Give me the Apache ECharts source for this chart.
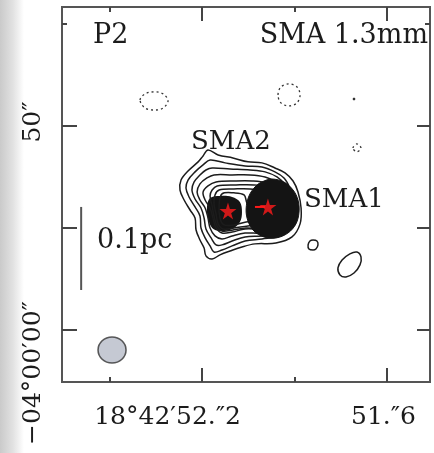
<!DOCTYPE html>
<html>
<head>
<meta charset="utf-8">
<script src="https://cdn.jsdelivr.net/npm/echarts@6/dist/echarts.min.js"></script>
<style>html,body{margin:0;padding:0;background:#fff}#c{width:434px;height:453px}</style>
</head>
<body>
<div id="c"></div>
<script>
// Coordinates: x = RA offset (arcsec, positive = west) from 18h42m52.2s ; y = Dec offset (arcsec) from -04d00m00s
const XMIN = -6.8, XMAX = 11.07, YMIN = -2.55, YMAX = 15.83;

const raMajorTicks = [0, 8.98];      // 52.2s, 51.6s
const raMinorTicks = [-4.49, 4.49];  // 52.5s, 51.9s
const decMajorTicks = [0, 5, 10];
const decMinorTicks = [15];
const raTickLabels = ['18°42′52.″2', '51.″6'];
const decTickLabels = ['−04°00′00″', '50″'];

// positive contours (outer -> inner)
const contour1 = [[0.29,8.82],[0.78,8.58],[1.50,8.43],[2.23,8.24],[2.91,8.19],[3.54,7.94],[4.03,7.70],[4.42,7.30],[4.66,6.76],[4.81,5.98],[4.76,5.20],[4.37,4.56],[3.59,4.26],[2.57,4.22],[1.94,4.07],[1.36,3.87],[0.87,3.68],[0.49,3.48],[0.19,3.63],[0.10,4.02],[-0.10,4.41],[-0.29,4.90],[-0.34,5.49],[-0.58,5.88],[-0.87,6.37],[-1.07,6.86],[-1.02,7.35],[-0.68,7.79],[-0.19,8.24],[0.05,8.53]];
const contour2 = [[0.39,8.33],[1.12,8.19],[2.09,8.04],[2.91,7.99],[3.54,7.75],[3.98,7.45],[4.27,6.96],[4.47,6.37],[4.47,5.64],[4.27,5.00],[3.79,4.61],[2.91,4.46],[2.09,4.36],[1.46,4.12],[0.97,3.92],[0.58,3.82],[0.39,4.12],[0.15,4.51],[-0.05,5.00],[-0.10,5.59],[-0.34,6.03],[-0.63,6.52],[-0.78,6.96],[-0.68,7.35],[-0.34,7.75],[0.05,8.09]];
const contour3 = [[0.49,7.94],[1.36,7.89],[2.33,7.84],[3.06,7.75],[3.64,7.50],[4.03,7.11],[4.27,6.52],[4.32,5.78],[4.13,5.15],[3.69,4.75],[2.91,4.61],[2.09,4.56],[1.46,4.36],[0.97,4.17],[0.68,4.17],[0.44,4.51],[0.19,4.95],[0.10,5.49],[-0.05,5.98],[-0.34,6.42],[-0.49,6.86],[-0.39,7.25],[-0.10,7.60],[0.19,7.84]];
const contour4 = [[0.58,7.60],[1.46,7.60],[2.33,7.60],[3.06,7.50],[3.59,7.25],[3.93,6.86],[4.13,6.27],[4.13,5.64],[3.93,5.15],[3.54,4.85],[2.82,4.75],[2.09,4.75],[1.46,4.61],[0.97,4.46],[0.63,4.61],[0.39,5.00],[0.29,5.49],[0.15,5.98],[-0.10,6.37],[-0.24,6.76],[-0.10,7.16],[0.24,7.45]];
const contour5 = [[0.68,7.25],[1.60,7.30],[2.43,7.30],[3.11,7.21],[3.54,6.96],[3.79,6.57],[3.93,6.03],[3.88,5.49],[3.64,5.10],[2.91,4.95],[2.09,4.95],[1.46,4.80],[0.97,4.75],[0.68,5.00],[0.53,5.49],[0.39,5.98],[0.15,6.37],[0.05,6.76],[0.29,7.06]];
const contour6 = [[0.73,7.06],[1.65,7.11],[2.52,7.11],[3.20,6.96],[3.40,6.13],[3.30,5.29],[2.91,5.00],[2.14,5.00],[1.50,4.90],[0.97,4.85],[0.73,5.10],[0.58,5.59],[0.49,6.08],[0.39,6.57],[0.49,6.86]];
const contour7 = [[0.83,6.86],[1.55,6.91],[2.33,6.91],[2.91,6.76],[3.01,5.88],[2.91,5.15],[2.23,5.10],[1.55,5.00],[1.02,4.95],[0.78,5.20],[0.68,5.69],[0.58,6.18],[0.63,6.62]];
const contour8 = [[0.97,6.67],[1.55,6.72],[2.04,6.62],[2.18,6.23],[2.43,5.88],[2.82,5.78],[2.72,5.39],[2.14,5.29],[1.55,5.15],[1.07,5.15],[0.87,5.49],[0.83,6.13]];
// saturated cores (densely packed contours)
const coreSMA2 = [[0.39,6.47],[0.87,6.57],[1.46,6.52],[1.84,6.27],[1.94,5.78],[1.84,5.29],[1.46,4.95],[0.87,4.85],[0.49,5.00],[0.29,5.49],[0.24,6.03]];
const coreSMA1 = [[3.40,7.40],[3.98,7.25],[4.42,6.86],[4.66,6.37],[4.71,5.78],[4.56,5.20],[4.17,4.75],[3.59,4.51],[3.01,4.56],[2.52,4.85],[2.23,5.34],[2.14,5.93],[2.28,6.57],[2.62,7.06],[3.01,7.30]];
// isolated positive contours
const blobSmall = [[5.15,4.17],[5.24,4.36],[5.39,4.41],[5.58,4.36],[5.63,4.17],[5.53,3.97],[5.39,3.92],[5.19,3.97]];
const blobSE = [[7.18,3.73],[7.52,3.82],[7.72,3.58],[7.67,3.19],[7.38,2.79],[6.99,2.60],[6.70,2.70],[6.60,3.04],[6.80,3.43]];
const blobDot = [[7.33,11.37],[7.43,11.37],[7.43,11.27],[7.33,11.27]];
// negative contours (dashed)
const neg1 = [[-3.01,11.27],[-2.77,11.57],[-2.33,11.67],[-1.89,11.57],[-1.65,11.23],[-1.89,10.88],[-2.33,10.78],[-2.77,10.88]];
const neg2 = [[3.69,11.52],[3.83,11.91],[4.22,12.06],[4.61,11.91],[4.76,11.52],[4.61,11.13],[4.22,10.98],[3.83,11.13]];
const neg3 = [[7.33,8.92],[7.52,9.12],[7.72,8.92],[7.52,8.73]];

const starPositions = [[1.26,5.83],[3.20,6.03]];
const redDash = [[2.57,6.03],[3.06,6.03]];
const beam = [[-4.37,-0.98]];
const scaleBar = [[-5.87,6.03],[-5.87,1.96]];

const FONT = '"DejaVu Serif", serif';
const INK = '#1c1c1c';

function polySeries(pts, style, z) {
  return {
    type: 'custom', coordinateSystem: 'cartesian2d', z: z, silent: true,
    data: [[pts[0][0], pts[0][1]]],
    renderItem: function (params, api) {
      return { type: 'polygon', shape: { points: pts.map(p => api.coord(p)), smooth: 0.35 }, style: style };
    }
  };
}
const lineStyleC = { fill: null, stroke: INK, lineWidth: 1.5 };
const dashStyle = { fill: null, stroke: '#333', lineWidth: 1.3, lineDash: [2, 3] };

function xAx(pos, ticks, len) {
  return { type: 'value', min: XMIN, max: XMAX, position: pos, axisLine: { show: false, onZero: false }, splitLine: { show: false },
    axisLabel: { show: false }, axisTick: { show: true, inside: true, length: len, customValues: ticks, lineStyle: { color: '#444', width: 2 } } };
}
function yAx(pos, ticks, len) {
  return { type: 'value', min: YMIN, max: YMAX, position: pos, axisLine: { show: false, onZero: false }, splitLine: { show: false },
    axisLabel: { show: false }, axisTick: { show: true, inside: true, length: len, customValues: ticks, lineStyle: { color: '#444', width: 2 } } };
}

const chart = echarts.init(document.getElementById('c'), null, { renderer: 'canvas' });
const series = [
  polySeries(coreSMA2, { fill: '#141414', stroke: null }, 2),
  polySeries(contour1, lineStyleC, 3),
  polySeries(contour2, lineStyleC, 3),
  polySeries(contour3, lineStyleC, 3),
  polySeries(contour4, lineStyleC, 3),
  polySeries(contour5, lineStyleC, 3),
  polySeries(contour6, lineStyleC, 3),
  polySeries(contour7, lineStyleC, 3),
  polySeries(contour8, lineStyleC, 3),
  polySeries(coreSMA1, { fill: '#141414', stroke: '#141414', lineWidth: 1 }, 4),
  polySeries(blobSmall, lineStyleC, 3),
  polySeries(blobSE, lineStyleC, 3),
  polySeries(blobDot, { fill: '#333', stroke: null }, 3),
  polySeries(neg1, dashStyle, 3),
  polySeries(neg2, dashStyle, 3),
  polySeries(neg3, dashStyle, 3),
  { type: 'line', data: redDash, symbol: 'none', lineStyle: { color: '#ff1a1a', width: 2 }, z: 5, silent: true },
  { type: 'scatter', data: starPositions, symbol: 'path://M50,0 L61,35 L98,35 L68,57 L79,91 L50,70 L21,91 L32,57 L2,35 L39,35 Z',
    symbolSize: 17, itemStyle: { color: '#ff1a1a' }, z: 6, silent: true },
  { type: 'scatter', data: beam, symbol: 'circle', symbolSize: [28, 26],
    itemStyle: { color: '#b6bbc8', borderColor: '#333', borderWidth: 1.5 }, z: 5, silent: true },
  { type: 'line', data: scaleBar, symbol: 'none', lineStyle: { color: '#555', width: 2 }, z: 5, silent: true }
];

function txt(text, x, y, align, vAlign, size, extra) {
  return Object.assign({ type: 'text', x: x, y: y, z: 20,
    style: { text: text, font: size + 'px ' + FONT, fill: INK, textAlign: align, textVerticalAlign: vAlign } }, extra || {});
}

chart.setOption({
  animation: false,
  backgroundColor: '#fff',
  grid: { left: 62, top: 7, width: 368, height: 375, show: true, borderColor: '#555', borderWidth: 2, backgroundColor: 'transparent' },
  xAxis: [xAx('bottom', raMajorTicks, 14), xAx('bottom', raMinorTicks, 5), xAx('top', raMajorTicks, 14), xAx('top', raMinorTicks, 5)],
  yAxis: [yAx('left', decMajorTicks, 15), yAx('left', decMinorTicks, 5), yAx('right', decMajorTicks, 13), yAx('right', decMinorTicks, 5)],
  series: series,
  graphic: [
    { type: 'rect', z: 0, shape: { x: 0, y: 0, width: 24, height: 453 },
      style: { fill: new echarts.graphic.LinearGradient(0, 0, 1, 0, [{ offset: 0, color: '#cacaca' }, { offset: 0.55, color: '#e2e2e2' }, { offset: 1, color: '#ffffff' }]) } },
    txt('P2', 93, 36, 'left', 'middle', 27),
    txt('SMA 1.3mm', 428, 36, 'right', 'middle', 27),
    txt('SMA2', 191, 142, 'left', 'middle', 26),
    txt('SMA1', 304, 200, 'left', 'middle', 26),
    txt('0.1pc', 97, 241, 'left', 'middle', 27),
    txt(raTickLabels[0], 241, 417, 'right', 'middle', 25),
    txt(raTickLabels[1], 416, 417, 'right', 'middle', 25),
    txt(decTickLabels[1], 33, 122, 'center', 'middle', 25, { rotation: Math.PI / 2 }),
    txt(decTickLabels[0], 33, 373, 'center', 'middle', 25, { rotation: Math.PI / 2 })
  ]
});
</script>
</body>
</html>
